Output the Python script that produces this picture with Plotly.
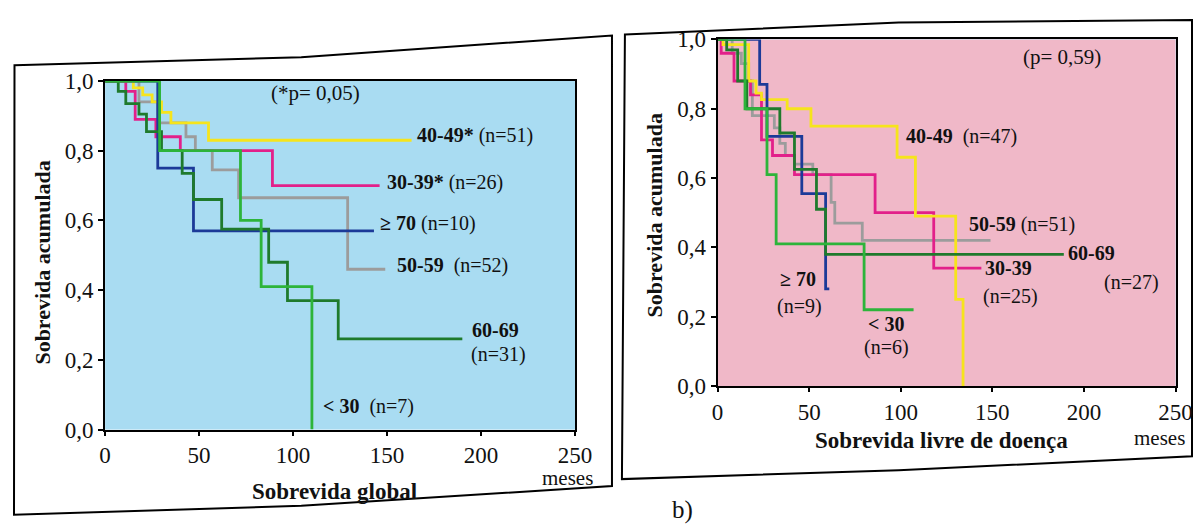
import plotly.graph_objects as go

# ---------------- data (months, cumulative survival) ----------------
groups = ["< 30", "30-39", "40-49", "50-59", "60-69", "≥ 70"]

# a) Sobrevida global
og_lt30_t = [0, 29, 72, 83, 110]
og_lt30_s = [1.0, 0.80, 0.60, 0.41, 0.0]
og_30_39_t = [0, 11, 16, 27, 40, 89, 146]
og_30_39_s = [1.0, 0.97, 0.89, 0.84, 0.80, 0.70, 0.70]
og_40_49_t = [0, 15, 20, 25, 30, 35, 55, 163]
og_40_49_s = [1.0, 0.98, 0.96, 0.94, 0.91, 0.88, 0.83, 0.83]
og_50_59_t = [0, 18, 28, 43, 48, 57, 71, 129, 149]
og_50_59_s = [1.0, 0.94, 0.88, 0.84, 0.80, 0.745, 0.665, 0.46, 0.46]
og_60_69_t = [0, 7, 11, 18, 22, 30, 41, 47, 62, 87, 97, 124, 190]
og_60_69_s = [1.0, 0.97, 0.935, 0.905, 0.855, 0.80, 0.735, 0.66, 0.575, 0.48, 0.37, 0.26, 0.26]
og_ge70_t = [0, 28, 47, 143]
og_ge70_s = [1.0, 0.75, 0.57, 0.57]

# b) Sobrevida livre de doença
sld_lt30_t = [0, 15, 27, 32, 80, 107]
sld_lt30_s = [1.0, 0.80, 0.61, 0.41, 0.22, 0.22]
sld_30_39_t = [0, 2, 9, 18, 24, 30, 42, 86, 118, 144]
sld_30_39_s = [1.0, 0.96, 0.88, 0.84, 0.71, 0.665, 0.61, 0.50, 0.34, 0.34]
sld_40_49_t = [0, 3, 17, 21, 24, 38, 51, 98, 108, 130, 134]
sld_40_49_s = [1.0, 0.985, 0.88, 0.845, 0.826, 0.80, 0.75, 0.66, 0.49, 0.25, 0.0]
sld_50_59_t = [0, 8, 13, 17, 19, 31, 34, 37, 42, 52, 62, 64, 79, 149]
sld_50_59_s = [1.0, 0.96, 0.93, 0.88, 0.78, 0.745, 0.70, 0.665, 0.64, 0.61, 0.53, 0.47, 0.42, 0.42]
sld_60_69_t = [0, 5, 11, 16, 34, 42, 54, 59, 189]
sld_60_69_s = [1.0, 0.97, 0.88, 0.80, 0.73, 0.625, 0.51, 0.38, 0.38]
sld_ge70_t = [0, 23, 27, 46, 59, 61]
sld_ge70_s = [1.0, 0.87, 0.72, 0.555, 0.28, 0.28]

x_ticks = [0, 50, 100, 150, 200, 250]
y_ticks = [0.0, 0.2, 0.4, 0.6, 0.8, 1.0]

# ---------------- styles ----------------
colors = {
    "< 30": "#2db43a",
    "30-39": "#e2208a",
    "40-49": "#f6e41c",
    "50-59": "#9c9c9c",
    "60-69": "#1f7a2c",
    "≥ 70": "#1c3a98",
}
draw_order = ["50-59", "30-39", "40-49", "≥ 70", "60-69", "< 30"]

og = {
    "< 30": (og_lt30_t, og_lt30_s), "30-39": (og_30_39_t, og_30_39_s),
    "40-49": (og_40_49_t, og_40_49_s), "50-59": (og_50_59_t, og_50_59_s),
    "60-69": (og_60_69_t, og_60_69_s), "≥ 70": (og_ge70_t, og_ge70_s),
}
sld = {
    "< 30": (sld_lt30_t, sld_lt30_s), "30-39": (sld_30_39_t, sld_30_39_s),
    "40-49": (sld_40_49_t, sld_40_49_s), "50-59": (sld_50_59_t, sld_50_59_s),
    "60-69": (sld_60_69_t, sld_60_69_s), "≥ 70": (sld_ge70_t, sld_ge70_s),
}

W, H = 1201, 528
SERIF = "Liberation Serif, Times New Roman, serif"

fig = go.Figure()
for g in draw_order:
    t, s = og[g]
    fig.add_trace(go.Scatter(x=t, y=s, mode="lines", line=dict(color=colors[g], width=2.8, shape="hv"),
                             xaxis="x", yaxis="y", showlegend=False, hoverinfo="skip"))
for g in draw_order:
    t, s = sld[g]
    fig.add_trace(go.Scatter(x=t, y=s, mode="lines", line=dict(color=colors[g], width=2.8, shape="hv"),
                             xaxis="x2", yaxis="y2", showlegend=False, hoverinfo="skip"))


# convert target picture pixels into paper fractions (page offset / scale compensation)
def px(x):
    f = (x - 11.5) / 0.985
    return min(max(f / W, 0.0), 1.0)


def py(y):
    f = (y - 17.4) / 0.962
    return min(max(1 - f / H, 0.0), 1.0)


axis_common = dict(
    range=[0, 250], tickvals=x_ticks, ticks="outside", ticklen=4, tickwidth=2, tickcolor="black",
    showline=True, linecolor="black", linewidth=2, mirror=True, showgrid=False, zeroline=False,
    tickfont=dict(family=SERIF, size=23, color="#111"),
)
yaxis_common = dict(
    range=[0, 1.0], tickvals=y_ticks, tickformat=".1f", ticks="outside", ticklen=5, tickwidth=2,
    tickcolor="black", showline=True, linecolor="black", linewidth=2, mirror=True, showgrid=False,
    zeroline=False, tickfont=dict(family=SERIF, size=23, color="#111"),
)

fig.update_layout(
    width=W, height=H, margin=dict(l=0, r=0, t=0, b=0),
    paper_bgcolor="white", plot_bgcolor="#a9dcf2", separators=",.",
    xaxis=dict(domain=[px(103), px(575)], anchor="y", **axis_common),
    yaxis=dict(domain=[py(431), py(79)], anchor="x", **yaxis_common),
    xaxis2=dict(domain=[px(718), px(1178)], anchor="y2", **axis_common),
    yaxis2=dict(domain=[py(387), py(37)], anchor="x2", **yaxis_common),
    font=dict(family=SERIF, color="#111"),
)

# pink background for right plot area
fig.add_shape(type="rect", xref="x2 domain", yref="y2 domain", x0=0, x1=1, y0=0, y1=1,
              fillcolor="#f0b8c8", line=dict(width=0), layer="below")

# panel frames (scanned boxes)
left_box = (f"M {px(12)},{py(63)} L {px(300)},{py(55)} L {px(612)},{py(33)} "
            f"L {px(612)},{py(488)} L {px(300)},{py(508)} L {px(10)},{py(517)} Z")
right_box = (f"M {px(625)},{py(32)} L {px(900)},{py(20)} L {px(1195)},{py(12)} "
             f"L {px(1195)},{py(458)} L {px(900)},{py(472)} L {px(622)},{py(481)} Z")
for path in (left_box, right_box):
    fig.add_shape(type="path", xref="paper", yref="paper", path=path,
                  line=dict(color="black", width=2), fillcolor="rgba(0,0,0,0)", layer="below")

annotations = []


def lab(text, x, y, ref, anchor="left", size=20):
    annotations.append(dict(text=text, x=x, y=y, xref="x" + ref, yref="y" + ref, xanchor=anchor,
                            yanchor="middle", showarrow=False,
                            font=dict(family=SERIF, size=size, color="#111")))


# left chart labels
lab("(*p= 0,05)", 112, 0.965, "", "center", 21)
lab("<b>40-49*</b> (n=51)", 165, 0.845, "")
lab("<b>30-39*</b> (n=26)", 149, 0.71, "")
lab("<b>≥ 70</b> (n=10)", 145, 0.59, "")
lab("<b>50-59</b>  (n=52)", 154, 0.47, "")
lab("<b>60-69</b>", 194, 0.285, "")
lab("(n=31)", 209, 0.215, "", "center")
lab("<b>&lt; 30</b>  (n=7)", 115, 0.065, "")

# right chart labels
lab("(p= 0,59)", 188, 0.95, "2", "center", 21)
lab("<b>40-49</b>  (n=47)", 102, 0.72, "2")
lab("<b>50-59</b> (n=51)", 136, 0.465, "2")
lab("<b>60-69</b>", 190, 0.385, "2")
lab("(n=27)", 226, 0.30, "2", "center")
lab("<b>30-39</b>", 145, 0.34, "2")
lab("(n=25)", 160, 0.257, "2", "center")
lab("<b>≥ 70</b>", 44, 0.31, "2", "center")
lab("(n=9)", 45, 0.23, "2", "center")
lab("<b>&lt; 30</b>", 92, 0.18, "2", "center")
lab("(n=6)", 92, 0.11, "2", "center")


def ptext(text, x, y, size=18, angle=0):
    annotations.append(dict(text=text, x=px(x), y=py(y), xref="paper", yref="paper", xanchor="center",
                            yanchor="middle", showarrow=False, textangle=angle,
                            font=dict(family=SERIF, size=size, color="#111")))


ptext("<b>Sobrevida acumulada</b>", 40, 262, 22, -90)
ptext("<b>Sobrevida acumulada</b>", 655, 215, 22, -90)
ptext("<b>Sobrevida global</b>", 333, 494, 23)
ptext("<b>Sobrevida livre de doença</b>", 943, 442, 23)
ptext("meses", 567, 480, 21)
ptext("meses", 1162, 440, 21)
ptext("b)", 683, 512, 25)

fig.update_layout(annotations=annotations)
fig.write_html("out.html")
